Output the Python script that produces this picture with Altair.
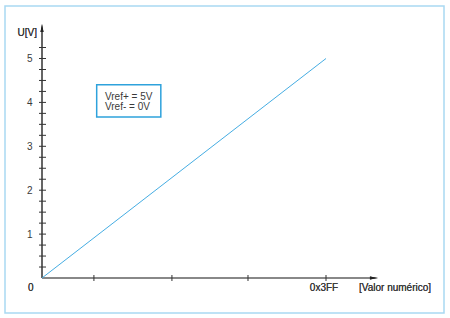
import altair as alt
import pandas as pd

# ---- data ----
line_x = [0, 1023]
line_y = [0, 5]
y_minor_ticks = [0.25, 0.5, 0.75, 1.0, 1.25, 1.5, 1.75, 2.0, 2.25, 2.5, 2.75, 3.0,
                 3.25, 3.5, 3.75, 4.0, 4.25, 4.5, 4.75, 5.0, 5.25]
y_labels = [1, 2, 3, 4, 5]
x_ticks = [187, 468, 742, 1023]
note_lines = ["Vref+ = 5V", "Vref- = 0V"]
note_line_y = [4.066, 3.822]
note_box = {"x": 197, "x2": 428, "y": 4.40, "y2": 3.67}
y_axis_top = 5.786
x_axis_end = 1210
y_title = "U[V]"
x_title = "[Valor numérico]"
x_end_label = "0x3FF"

FONT = "Liberation Sans"
TXT = "#3a3a3a"

xs = alt.Scale(domain=[-133.28, 1448.05], nice=False, zero=False)
ys = alt.Scale(domain=[-0.7973, 6.1959], nice=False, zero=False)
X = lambda f, t="quantitative": alt.X(f, type=t, scale=xs, axis=None)
Y = lambda f, t="quantitative": alt.Y(f, type=t, scale=ys, axis=None)

line_df = pd.DataFrame({"x": line_x, "y": line_y})
yt_df = pd.DataFrame({"y": y_minor_ticks})
yl_df = pd.DataFrame({"y": y_labels, "t": [str(v) for v in y_labels]})
xt_df = pd.DataFrame({"x": x_ticks})
note_df = pd.DataFrame({"t": note_lines, "y": note_line_y, "x": [note_box["x"]] * 2})
box_df = pd.DataFrame([note_box])

base = alt.Chart(line_df)

# axes
y_axis = base.mark_rule(color="#333333", strokeWidth=1).encode(
    x=alt.X(datum=0, scale=xs, axis=None), y=alt.Y(datum=0, scale=ys, axis=None),
    y2=alt.Y2(datum=y_axis_top - 0.1))
x_axis = base.mark_rule(color="#808080", strokeWidth=1.6).encode(
    y=alt.Y(datum=0, scale=ys, axis=None), x=alt.X(datum=0, scale=xs, axis=None),
    x2=alt.X2(datum=x_axis_end - 20))
y_arrow = base.mark_point(shape="M0,-1L0.375,1L-0.375,1Z", filled=True, size=64,
                          color="#222222", opacity=1).encode(
    x=alt.X(datum=0, scale=xs, axis=None),
    y=alt.Y(datum=y_axis_top - 0.091, scale=ys, axis=None))
x_arrow = base.mark_point(shape="M1,0L-1,-0.375L-1,0.375Z", filled=True, size=64,
                          color="#222222", opacity=1).encode(
    x=alt.X(datum=x_axis_end - 14.4, scale=xs, axis=None),
    y=alt.Y(datum=0, scale=ys, axis=None))

y_ticks = alt.Chart(yt_df).mark_tick(orient="horizontal", size=7, thickness=1,
                                     color="#333333", opacity=1).encode(
    x=alt.X(datum=1.8, scale=xs, axis=None), y=Y("y"))
x_tick_marks = alt.Chart(xt_df).mark_tick(orient="vertical", size=6, thickness=1,
                                          color="#333333", opacity=1).encode(
    x=X("x"), y=alt.Y(datum=0, scale=ys, axis=None))

y_tick_labels = alt.Chart(yl_df).mark_text(font=FONT, fontSize=10, color=TXT, align="right",
                                           baseline="alphabetic", dx=-9.5, dy=3.6).encode(
    x=alt.X(datum=0, scale=xs, axis=None), y=Y("y"), text="t:N")

zero_label = base.mark_text(font=FONT, fontSize=10, color=TXT, align="right",
                            baseline="alphabetic", dx=-8.5, dy=13).encode(
    x=alt.X(datum=0, scale=xs, axis=None), y=alt.Y(datum=0, scale=ys, axis=None),
    text=alt.value("0"))
end_label = base.mark_text(font=FONT, fontSize=10, color=TXT, align="center",
                           baseline="alphabetic", dx=-2, dy=13).encode(
    x=alt.X(datum=1023, scale=xs, axis=None), y=alt.Y(datum=0, scale=ys, axis=None),
    text=alt.value(x_end_label))
x_title_t = base.mark_text(font=FONT, fontSize=10, color=TXT, align="left",
                           baseline="alphabetic", dx=33, dy=13).encode(
    x=alt.X(datum=1023, scale=xs, axis=None), y=alt.Y(datum=0, scale=ys, axis=None),
    text=alt.value(x_title))
y_title_t = base.mark_text(font=FONT, fontSize=10, color=TXT, align="right",
                           baseline="alphabetic", dx=-5, dy=12.5).encode(
    x=alt.X(datum=0, scale=xs, axis=None), y=alt.Y(datum=y_axis_top, scale=ys, axis=None),
    text=alt.value(y_title))

line = base.mark_line(color="#45ade3", strokeWidth=1).encode(x=X("x"), y=Y("y"))

box = alt.Chart(box_df).mark_rect(fill="white", stroke="#2ea2dc", strokeWidth=1.5).encode(
    x=X("x"), x2="x2", y=Y("y"), y2="y2")
note = alt.Chart(note_df).mark_text(font=FONT, fontSize=10, color=TXT, align="left",
                                    baseline="alphabetic", dx=8.3).encode(
    x=X("x"), y=Y("y"), text="t:N")

chart = alt.layer(
    x_axis, y_axis, y_ticks, x_tick_marks, line, y_arrow, x_arrow,
    y_tick_labels, zero_label, end_label, x_title_t, y_title_t, box, note
).properties(
    width=439, height=307,
    padding={"left": 5, "top": 6, "right": 6, "bottom": 5},
    autosize=alt.AutoSizeParams(type="none"),
    background="white",
).configure_view(stroke="#a9d9f2", strokeWidth=1.5)

chart.save("out.html", embed_options={"renderer": "svg", "actions": False})
